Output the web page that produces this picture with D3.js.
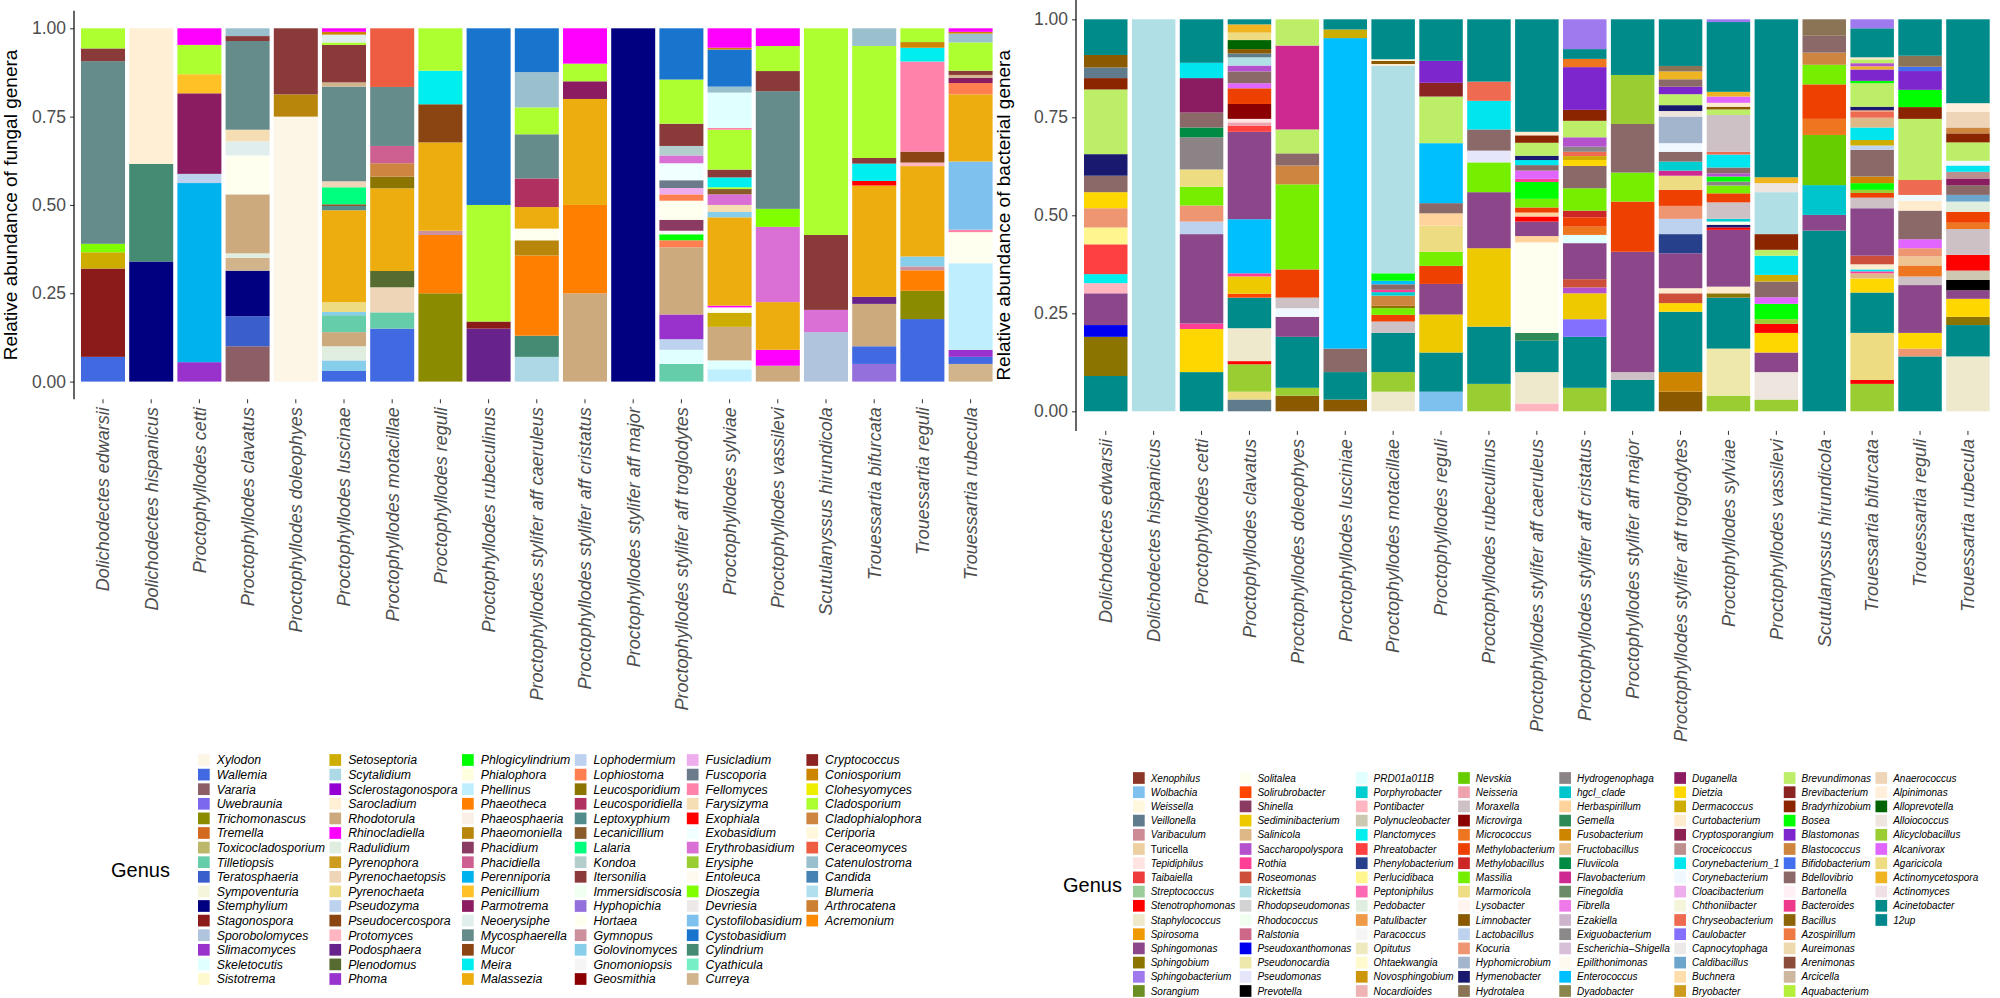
<!DOCTYPE html>
<html>
<head>
<meta charset="utf-8">
<script src="https://cdn.jsdelivr.net/npm/d3@7"></script>
<style>
  body { margin: 0; background: #fff; }
  text { font-family: "Liberation Sans", Arial, sans-serif; }
</style>
</head>
<body>
<svg id="chart" width="2000" height="998"></svg>
<script>
// ---- data ----
const fungalSpecies = ["Dolichodectes edwarsii","Dolichodectes hispanicus","Proctophyllodes cetti","Proctophyllodes clavatus","Proctophyllodes doleophyes","Proctophyllodes luscinae","Proctophyllodes motacillae","Proctophyllodes reguli","Proctophyllodes rubeculinus","Proctophyllodes stylifer aff caeruleus","Proctophyllodes stylifer aff cristatus","Proctophyllodes stylifer aff major","Proctophyllodes stylifer aff troglodytes","Proctophyllodes sylviae","Proctophyllodes vassilevi","Scutulanyssus hirundicola","Trouessartia bifurcata","Trouessartia reguli","Trouessartia rubecula"];
const bacterialSpecies = ["Dolichodectes edwarsii","Dolichodectes hispanicus","Proctophyllodes cetti","Proctophyllodes clavatus","Proctophyllodes doleophyes","Proctophyllodes lusciniae","Proctophyllodes motacillae","Proctophyllodes reguli","Proctophyllodes rubeculinus","Proctophyllodes stylifer aff caeruleus","Proctophyllodes stylifer aff cristatus","Proctophyllodes stylifer aff major","Proctophyllodes stylifer aff troglodytes","Proctophyllodes sylviae","Proctophyllodes vassilevi","Scutulanyssus hirundicola","Trouessartia bifurcata","Trouessartia reguli","Trouessartia rubecula"];

const yTicks = [0, 0.25, 0.5, 0.75, 1];

const fungalGenera = ["Xylodon","Wallemia","Vararia","Uwebraunia","Trichomonascus","Tremella","Toxicocladosporium","Tilletiopsis","Teratosphaeria","Sympoventuria","Stemphylium","Stagonospora","Sporobolomyces","Slimacomyces","Skeletocutis","Sistotrema",
"Setoseptoria","Scytalidium","Sclerostagonospora","Sarocladium","Rhodotorula","Rhinocladiella","Radulidium","Pyrenophora","Pyrenochaetopsis","Pyrenochaeta","Pseudozyma","Pseudocercospora","Protomyces","Podosphaera","Plenodomus","Phoma",
"Phlogicylindrium","Phialophora","Phellinus","Phaeotheca","Phaeosphaeria","Phaeomoniella","Phacidium","Phacidiella","Perenniporia","Penicillium","Parmotrema","Neoerysiphe","Mycosphaerella","Mucor","Meira","Malassezia",
"Lophodermium","Lophiostoma","Leucosporidium","Leucosporidiella","Leptoxyphium","Lecanicillium","Lalaria","Kondoa","Itersonilia","Immersidiscosia","Hyphopichia","Hortaea","Gymnopus","Golovinomyces","Gnomoniopsis","Geosmithia",
"Fusicladium","Fuscoporia","Fellomyces","Farysizyma","Exophiala","Exobasidium","Erythrobasidium","Erysiphe","Entoleuca","Dioszegia","Devriesia","Cystofilobasidium","Cystobasidium","Cylindrium","Cyathicula","Curreya",
"Cryptococcus","Coniosporium","Clohesyomyces","Cladosporium","Cladophialophora","Ceriporia","Ceraceomyces","Catenulostroma","Candida","Blumeria","Arthrocatena","Acremonium"];

const fungalPalette = ["#fdf5e6","#4169e1","#8b5f65","#7b68ee","#8b8b00","#d2691e","#bdb76b","#66cdaa","#3a5fcd","#f5f5dc","#000080","#8b1a1a","#b0c4de","#9932cc","#e0ffff","#fffacd",
"#cdad00","#add8e6","#9400d3","#ffefd5","#cdaa7d","#ff00ff","#e0eee0","#cd9b1d","#eed5b7","#eedc82","#bcd2ee","#8b4513","#ffb6c1","#68228b","#556b2f","#9a32cd",
"#00ff00","#ffffe0","#bfefff","#ff7f00","#faf0e6","#b8860b","#8b3a62","#cd6090","#00b2ee","#ffc125","#8b1c62","#e0eeee","#668b8b","#8b4513","#00eeee","#eead0e",
"#bcd2ee","#ff7f50","#8b7500","#b03060","#528b8b","#8b5a2b","#00ff7f","#b4cdcd","#8b3a3a","#f0fff0","#9370db","#fffff0","#cd919e","#87ceeb","#f5f5f5","#8b0000",
"#eeaeee","#6c7b8b","#ff82ab","#f5deb3","#ff0000","#f0ffff","#da70d6","#9acd32","#fffaf0","#7fff00","#eee9e9","#7ec0ee","#1874cd","#458b74","#76eec6","#d2b48c",
"#8b2323","#cd8500","#eeee00","#adff2f","#cd853f","#fff8dc","#ee5c42","#9ac0cd","#4682b4","#b2dfee","#cd7f32","#ff8c00"];

const bacterialGenera = ["Xenophilus","Wolbachia","Weissella","Veillonella","Varibaculum","Turicella","Tepidiphilus","Taibaiella","Streptococcus","Stenotrophomonas","Staphylococcus","Spirosoma","Sphingomonas","Sphingobium","Sphingobacterium","Sorangium",
"Solitalea","Solirubrobacter","Shinella","Sediminibacterium","Salinicola","Saccharopolyspora","Rothia","Roseomonas","Rickettsia","Rhodopseudomonas","Rhodococcus","Ralstonia","Pseudoxanthomonas","Pseudonocardia","Pseudomonas","Prevotella",
"PRD01a011B","Porphyrobacter","Pontibacter","Polynucleobacter","Planctomyces","Phreatobacter","Phenylobacterium","Perlucidibaca","Peptoniphilus","Pedobacter","Patulibacter","Paracoccus","Opitutus","Ohtaekwangia","Novosphingobium","Nocardioides",
"Nevskia","Neisseria","Moraxella","Microvirga","Micrococcus","Methylobacterium","Methylobacillus","Massilia","Marmoricola","Lysobacter","Limnobacter","Lactobacillus","Kocuria","Hyphomicrobium","Hymenobacter","Hydrotalea",
"Hydrogenophaga","hgcI_clade","Herbaspirillum","Gemella","Fusobacterium","Fructobacillus","Fluviicola","Flavobacterium","Finegoldia","Fibrella","Ezakiella","Exiguobacterium","Escherichia\u2013Shigella","Epilithonimonas","Enterococcus","Dyadobacter",
"Duganella","Dietzia","Dermacoccus","Curtobacterium","Cryptosporangium","Croceicoccus","Corynebacterium_1","Corynebacterium","Cloacibacterium","Chthoniibacter","Chryseobacterium","Caulobacter","Capnocytophaga","Caldibacillus","Buchnera","Bryobacter",
"Brevundimonas","Brevibacterium","Bradyrhizobium","Bosea","Blastomonas","Blastococcus","Bifidobacterium","Bdellovibrio","Bartonella","Bacteroides","Bacillus","Azospirillum","Aureimonas","Arenimonas","Arcicella","Aquabacterium",
"Anaerococcus","Alpinimonas","Alloprevotella","Alloiococcus","Alicyclobacillus","Alcanivorax","Agaricicola","Actinomycetospora","Actinomyces","Acinetobacter","12up"];

const bacterialPalette = ["#8b3626","#7ec0ee","#fff8dc","#607b8b","#cd8c95","#eecfa1","#ffe4e1","#ee3b3b","#9bcd9b","#ff0000","#eee8cd","#ee9a00","#8b4789","#8b7500","#9f79ee","#6b8e23",
"#fffff0","#ff4500","#8b3a62","#eec900","#deb887","#b452cd","#ff3e96","#cd4f39","#b0e0e6","#d3d3d3","#f0fff0","#cd6889","#0000ee","#eee8aa","#e6e6fa","#000000",
"#e0ffff","#00ced1","#ffb6c1","#cdc8b1","#00eeee","#ff4040","#27408b","#fff68f","#ff69b4","#e0eee0","#ee9a49","#f5f5f5","#eee9bf","#fffacd","#cd950c","#eeb4b4",
"#66cd00","#eea2ad","#cdc1c5","#8b0000","#ee7621","#ee4000","#cd2626","#76ee00","#eedd82","#fff5ee","#8b5a00","#bcd2ee","#ee9572","#a2b5cd","#191970","#8b7355",
"#8b8386","#00c5cd","#ffd39b","#2e8b57","#cd8500","#eec591","#008b45","#cd2990","#698b69","#ee7ae9","#cdb5cd","#8b8989","#d8bfd8","#fffaf0","#00bfff","#8b864e",
"#8b1c62","#ffd700","#cdad00","#ffebcd","#8b2252","#bc8f8f","#00e5ee","#f0f8ff","#eeaeee","#f5f5dc","#ee6a50","#8470ff","#eee9e9","#6ca6cd","#ffdead","#cd9b1d",
"#bcee68","#8b2323","#8b2500","#00ff00","#7d26cd","#cd853f","#436eee","#8b6969","#fff0f5","#ee3a8c","#8b6508","#ee7942","#eed8ae","#8b4c39","#cdb79e","#b3ee3a",
"#eed5b7","#ffefdb","#006400","#eee5de","#9acd32","#e066ff","#eedc82","#eeb422","#eee0e5","#008b8b","#00868b"];

// stacks read top -> bottom, [genus, relative abundance]
const fungalStacks = [
  [["Cladosporium",.057],["Itersonilia",.036],["Mycosphaerella",.517],["Dioszegia",.024],["Setoseptoria",.046],["Stagonospora",.25],["Wallemia",.07]],
  [["Sarocladium",.384],["Cylindrium",.276],["Stemphylium",.34]],
  [["Rhinocladiella",.047],["Cladosporium",.083],["Penicillium",.054],["Parmotrema",.228],["Lophodermium",.026],["Perenniporia",.507],["Slimacomyces",.055]],
  [["Catenulostroma",.022],["Itersonilia",.014],["Mycosphaerella",.251],["Farysizyma",.033],["Neoerysiphe",.04],["Hortaea",.11],["Rhodotorula",.167],["Radulidium",.013],["Curreya",.036],["Stemphylium",.129],["Teratosphaeria",.085],["Vararia",.1]],
  [["Itersonilia",.187],["Phaeomoniella",.063],["Xylodon",.75]],
  [["Rhinocladiella",.01],["Coniosporium",.008],["Neoerysiphe",.022],["Cladosporium",.007],["Itersonilia",.106],["Curreya",.012],["Mycosphaerella",.268],["Pyrenochaetopsis",.017],["Lalaria",.048],["Lecanicillium",.005],["Leptoxyphium",.012],["Malassezia",.26],["Pyrenochaeta",.028],["Golovinomyces",.009],["Tilletiopsis",.048],["Rhodotorula",.04],["Radulidium",.04],["Golovinomyces",.03],["Wallemia",.03]],
  [["Ceraceomyces",.166],["Mycosphaerella",.167],["Phacidiella",.049],["Cladophialophora",.038],["Leucosporidium",.033],["Malassezia",.234],["Plenodomus",.046],["Pyrenochaetopsis",.071],["Tilletiopsis",.046],["Wallemia",.15]],
  [["Cladosporium",.12],["Meira",.095],["Mucor",.108],["Malassezia",.25],["Gymnopus",.012],["Phaeotheca",.165],["Trichomonascus",.25]],
  [["Cystobasidium",.5],["Cladosporium",.33],["Stagonospora",.02],["Podosphaera",.15]],
  [["Cystobasidium",.124],["Catenulostroma",.1],["Cladosporium",.076],["Mycosphaerella",.125],["Leucosporidiella",.081],["Malassezia",.061],["Hortaea",.033],["Phaeomoniella",.043],["Phaeotheca",.227],["Cylindrium",.06],["Scytalidium",.07]],
  [["Rhinocladiella",.1],["Cladosporium",.05],["Parmotrema",.05],["Malassezia",.3],["Phaeotheca",.25],["Rhodotorula",.25]],
  [["Stemphylium",1]],
  [["Cystobasidium",.145],["Cladosporium",.125],["Itersonilia",.063],["Kondoa",.027],["Erythrobasidium",.022],["Exobasidium",.048],["Fuscoporia",.022],["Fusicladium",.018],["Lophiostoma",.018],["Hortaea",.054],["Phacidium",.031],["Gnomoniopsis",.01],["Phlogicylindrium",.017],["Lophiostoma",.02],["Rhodotorula",.19],["Slimacomyces",.07],["Lophodermium",.03],["Skeletocutis",.04],["Tilletiopsis",.05]],
  [["Rhinocladiella",.055],["Coniosporium",.005],["Cystobasidium",.105],["Catenulostroma",.017],["Skeletocutis",.1],["Fellomyces",.005],["Cladosporium",.113],["Itersonilia",.022],["Meira",.028],["Cladosporium",.005],["Lecanicillium",.015],["Erythrobasidium",.03],["Farysizyma",.02],["Golovinomyces",.015],["Malassezia",.25],["Rhinocladiella",.005],["Hortaea",.015],["Setoseptoria",.04],["Rhodotorula",.095],["Skeletocutis",.025],["Phellinus",.035]],
  [["Rhinocladiella",.05],["Cladosporium",.071],["Itersonilia",.057],["Mycosphaerella",.333],["Dioszegia",.051],["Erythrobasidium",.213],["Malassezia",.135],["Rhinocladiella",.045],["Rhodotorula",.045]],
  [["Cladosporium",.585],["Itersonilia",.212],["Erythrobasidium",.063],["Sporobolomyces",.14]],
  [["Catenulostroma",.05],["Cladosporium",.317],["Itersonilia",.016],["Meira",.049],["Exophiala",.013],["Malassezia",.315],["Podosphaera",.02],["Rhodotorula",.12],["Wallemia",.05],["Hyphopichia",.05]],
  [["Cladosporium",.039],["Coniosporium",.016],["Meira",.039],["Fellomyces",.255],["Mucor",.031],["Protomyces",.01],["Malassezia",.256],["Golovinomyces",.028],["Gymnopus",.011],["Phaeotheca",.058],["Trichomonascus",.08],["Wallemia",.177]],
  [["Rhinocladiella",.01],["Coniosporium",.005],["Catenulostroma",.025],["Cladosporium",.08],["Itersonilia",.012],["Curreya",.008],["Parmotrema",.015],["Lophiostoma",.032],["Malassezia",.19],["Cystofilobasidium",.193],["Fellomyces",.007],["Hortaea",.088],["Phellinus",.245],["Slimacomyces",.02],["Wallemia",.02],["Curreya",.05]]
];

const bacterialStacks = [
  [["Acinetobacter",.091],["Limnobacter",.032],["Veillonella",.027],["Bradyrhizobium",.029],["Brevundimonas",.165],["Hymenobacter",.055],["Bdellovibrio",.042],["Dietzia",.041],["Kocuria",.049],["Perlucidibaca",.043],["Phreatobacter",.076],["Planctomyces",.023],["Pontibacter",.026],["Sphingomonas",.081],["Pseudoxanthomonas",.03],["Sphingobium",.1],["Acinetobacter",.09]],
  [["Rickettsia",1]],
  [["Acinetobacter",.111],["Corynebacterium_1",.039],["Duganella",.088],["Bdellovibrio",.038],["Fluviicola",.025],["Hydrogenophaga",.082],["Agaricicola",.044],["Massilia",.048],["Kocuria",.041],["Lactobacillus",.032],["Sphingomonas",.228],["Rothia",.014],["Dietzia",.11],["Acinetobacter",.1]],
  [["Acinetobacter",.013],["Actinomycetospora",.021],["Agaricicola",.019],["Alloprevotella",.023],["Limnobacter",.011],["Veillonella",.01],["Rickettsia",.021],["Saccharopolyspora",.015],["Bdellovibrio",.03],["Alcanivorax",.013],["Methylobacterium",.04],["Microvirga",.038],["Tepidiphilus",.009],["Neisseria",.009],["Phreatobacter",.015],["Sphingomonas",.223],["Enterococcus",.138],["Rothia",.008],["Sediminibacterium",.044],["Solirubrobacter",.01],["Acinetobacter",.078],["Staphylococcus",.084],["Stenotrophomonas",.008],["Alicyclobacillus",.07],["Agaricicola",.02],["Veillonella",.03]],
  [["Brevundimonas",.067],["Flavobacterium",.214],["Brevundimonas",.061],["Bdellovibrio",.031],["Blastococcus",.048],["Massilia",.217],["Methylobacterium",.072],["Moraxella",.027],["Corynebacterium",.022],["Sphingomonas",.051],["Acinetobacter",.13],["Alicyclobacillus",.02],["Limnobacter",.04]],
  [["Acinetobacter",.026],["Dermacoccus",.022],["Enterococcus",.792],["Bdellovibrio",.06],["Acinetobacter",.07],["Limnobacter",.03]],
  [["Acinetobacter",.102],["Weissella",.004],["Limnobacter",.008],["Curtobacterium",.004],["Rickettsia",.53],["Bosea",.019],["Enterococcus",.009],["Bdellovibrio",.014],["Rothia",.006],["Porphyrobacter",.009],["Blastococcus",.026],["Sphingobium",.006],["Massilia",.017],["Methylobacterium",.017],["Moraxella",.029],["Acinetobacter",.1],["Alicyclobacillus",.05],["Staphylococcus",.05]],
  [["Acinetobacter",.106],["Blastomonas",.056],["Brevibacterium",.035],["Brevundimonas",.119],["Enterococcus",.153],["Bdellovibrio",.026],["Herbaspirillum",.031],["Agaricicola",.067],["Massilia",.036],["Methylobacterium",.046],["Sphingomonas",.078],["Sediminibacterium",.097],["Acinetobacter",.1],["Wolbachia",.05]],
  [["Acinetobacter",.159],["Chryseobacterium",.049],["Corynebacterium_1",.073],["Bdellovibrio",.054],["Pseudomonas",.03],["Massilia",.076],["Sphingomonas",.143],["Sediminibacterium",.2],["Acinetobacter",.146],["Alicyclobacillus",.07]],
  [["Acinetobacter",.287],["Curtobacterium",.009],["Bradyrhizobium",.019],["Brevundimonas",.033],["Hymenobacter",.011],["Corynebacterium_1",.013],["Bdellovibrio",.014],["Alcanivorax",.021],["Rothia",.008],["Bosea",.043],["Massilia",.022],["Methylobacterium",.013],["Herbaspirillum",.01],["Stenotrophomonas",.013],["Sphingomonas",.037],["Herbaspirillum",.016],["Solitalea",.231],["Gemella",.02],["Acinetobacter",.08],["Staphylococcus",.08],["Pontibacter",.02]],
  [["Sphingobacterium",.076],["Acinetobacter",.025],["Micrococcus",.021],["Blastomonas",.109],["Bradyrhizobium",.028],["Brevundimonas",.042],["Saccharopolyspora",.024],["Hydrogenophaga",.013],["Chryseobacterium",.011],["Dermacoccus",.01],["Dietzia",.015],["Bdellovibrio",.057],["Massilia",.057],["Methylobacillus",.017],["Methylobacterium",.024],["Micrococcus",.021],["PRD01a011B",.021],["Sphingomonas",.092],["Roseomonas",.021],["Saccharopolyspora",.015],["Sediminibacterium",.066],["Caulobacter",.045],["Acinetobacter",.13],["Alicyclobacillus",.06]],
  [["Acinetobacter",.142],["Alicyclobacillus",.125],["Bdellovibrio",.124],["Massilia",.074],["Methylobacterium",.128],["Sphingomonas",.307],["Moraxella",.02],["Acinetobacter",.08]],
  [["Acinetobacter",.119],["Hydrotalea",.014],["Actinomycetospora",.02],["Bdellovibrio",.019],["Blastomonas",.019],["Brevundimonas",.028],["Hymenobacter",.015],["Alloiococcus",.014],["Hyphomicrobium",.068],["Corynebacterium",.022],["Bdellovibrio",.025],["Porphyrobacter",.023],["Flavobacterium",.013],["Agaricicola",.036],["Methylobacterium",.041],["Kocuria",.033],["Lactobacillus",.039],["Phenylobacterium",.049],["Sphingomonas",.089],["Curtobacterium",.013],["Roseomonas",.025],["Dietzia",.022],["Acinetobacter",.154],["Fusobacterium",.05],["Limnobacter",.05]],
  [["Sphingobacterium",.007],["Acinetobacter",.178],["Actinomycetospora",.012],["Alcanivorax",.016],["Curtobacterium",.01],["Limnobacter",.007],["Brevundimonas",.014],["Moraxella",.094],["Chryseobacterium",.007],["Corynebacterium_1",.033],["Bdellovibrio",.015],["Saccharopolyspora",.008],["Bosea",.013],["Hydrogenophaga",.01],["Massilia",.02],["Methylobacterium",.023],["Moraxella",.042],["Porphyrobacter",.007],["Solitalea",.008],["Hymenobacter",.007],["Stenotrophomonas",.006],["Sphingomonas",.145],["Curtobacterium",.017],["Sphingobium",.011],["Acinetobacter",.13],["Pseudonocardia",.12],["Alicyclobacillus",.04]],
  [["Acinetobacter",.403],["Actinomycetospora",.015],["Alloiococcus",.023],["Rickettsia",.107],["Bradyrhizobium",.04],["Brevundimonas",.015],["Corynebacterium_1",.049],["Dermacoccus",.017],["Bdellovibrio",.04],["Alcanivorax",.017],["Bosea",.039],["Alicyclobacillus",.012],["Stenotrophomonas",.023],["Dietzia",.05],["Sphingomonas",.05],["Alloiococcus",.07],["Alicyclobacillus",.03]],
  [["Hydrotalea",.042],["Bdellovibrio",.043],["Blastococcus",.031],["Massilia",.05],["Methylobacterium",.088],["Micrococcus",.041],["Nevskia",.128],["hgcI_clade",.076],["Sphingomonas",.04],["Acinetobacter",.461]],
  [["Sphingobacterium",.023],["Acinetobacter",.074],["Curtobacterium",.005],["Brevundimonas",.01],["Saccharopolyspora",.008],["Actinomycetospora",.008],["Blastomonas",.029],["Bosea",.006],["Brevundimonas",.06],["Hymenobacter",.009],["Kocuria",.004],["Chryseobacterium",.015],["Salinicola",.025],["Corynebacterium_1",.032],["Dermacoccus",.014],["Lactobacillus",.011],["Bdellovibrio",.068],["Fusobacterium",.017],["Bosea",.017],["Alicyclobacillus",.008],["Methylobacterium",.012],["Moraxella",.027],["Sphingomonas",.121],["Roseomonas",.022],["Curtobacterium",.013],["Corynebacterium_1",.005],["Rothia",.005],["Salinicola",.013],["Dietzia",.036],["Acinetobacter",.103],["Agaricicola",.12],["Stenotrophomonas",.01],["Alicyclobacillus",.07]],
  [["Acinetobacter",.093],["Hydrotalea",.028],["Bifidobacterium",.011],["Blastomonas",.048],["Bosea",.044],["Bradyrhizobium",.03],["Brevundimonas",.156],["Chryseobacterium",.038],["Corynebacterium",.015],["Curtobacterium",.025],["Bdellovibrio",.073],["Alcanivorax",.023],["Kocuria",.021],["Fructobacillus",.023],["Micrococcus",.028],["Moraxella",.022],["Sphingomonas",.122],["Dietzia",.04],["Kocuria",.02],["Acinetobacter",.14]],
  [["Acinetobacter",.214],["Alpinimonas",.022],["Anaerococcus",.04],["Blastococcus",.015],["Bradyrhizobium",.023],["Brevundimonas",.047],["Corynebacterium",.012],["Corynebacterium_1",.016],["Croceicoccus",.017],["Duganella",.017],["Bdellovibrio",.025],["Caldibacillus",.017],["Pedobacter",.026],["Methylobacterium",.028],["Micrococcus",.016],["Moraxella",.066],["Stenotrophomonas",.04],["Polynucleobacter",.024],["Prevotella",.026],["Sphingomonas",.022],["Dietzia",.046],["Sphingobium",.021],["Acinetobacter",.08],["Staphylococcus",.14]]
];

// ---- drawing ----
const svg = d3.select("#chart");
const GREY = "#4d4d4d";

function drawPanel(cfg){
  const g = svg.append("g");
  const x = d3.scaleBand().domain(cfg.species)
    .range([cfg.x0, cfg.x0 + cfg.species.length*cfg.step])
    .paddingInner(cfg.pad).paddingOuter(cfg.pad/2);
  const y = d3.scaleLinear().domain([0,1]).range([cfg.yBottom, cfg.yTop]);
  const color = d3.scaleOrdinal().domain(cfg.genera).range(cfg.palette);

  // stacked bars: data listed top->bottom, stack from the bottom up
  cfg.stacks.forEach((stack, i) => {
    let acc = 0;
    const segs = stack.slice().reverse().map(([genus, v]) => {
      const s = {genus, y0: acc, y1: acc + v};
      acc += v;
      return s;
    });
    g.append("g").selectAll("rect").data(segs).join("rect")
      .attr("x", x(cfg.species[i]))
      .attr("width", x.bandwidth())
      .attr("y", d => y(d.y1))
      .attr("height", d => y(d.y0) - y(d.y1))
      .attr("fill", d => color(d.genus));
  });

  // y axis
  const yAxis = d3.axisLeft(y).tickValues(yTicks).tickFormat(d3.format(".2f")).tickSize(4).tickPadding(4);
  const ax = g.append("g").attr("transform", `translate(${cfg.axisX},0)`).call(yAxis);
  ax.select(".domain").remove();
  ax.append("line").attr("y1", y(1.05)).attr("y2", y(-0.05)).attr("stroke", "#000").attr("stroke-width", 1.2);
  ax.selectAll(".tick line").attr("stroke", "#333");
  ax.selectAll(".tick text").attr("fill", GREY).style("font-size", "17.5px");

  g.append("text")
    .attr("transform", `translate(${cfg.titleX},${(y(1.05)+y(-0.05))/2}) rotate(-90)`)
    .attr("text-anchor", "middle")
    .style("font-size", "19px")
    .text(cfg.title);

  // x tick labels
  const bottom = y(-0.05);
  g.append("g").selectAll("line").data(cfg.species).join("line")
    .attr("x1", d => x(d) + x.bandwidth()/2).attr("x2", d => x(d) + x.bandwidth()/2)
    .attr("y1", bottom).attr("y2", bottom + 4).attr("stroke", "#333");
  g.append("g").selectAll("text").data(cfg.species).join("text")
    .attr("transform", d => `translate(${x(d) + x.bandwidth()/2},${bottom + 8}) rotate(-90)`)
    .attr("text-anchor", "end")
    .attr("dy", "0.35em")
    .attr("fill", GREY)
    .style("font-size", "18px")
    .style("font-style", "italic")
    .text(d => d);

  // legend
  const lg = svg.append("g");
  const rows = 16;
  let colX = cfg.legX;
  for (let c = 0; c * rows < cfg.genera.length; c++) {
    const items = cfg.genera.slice(c*rows, c*rows + rows);
    const col = lg.append("g");
    items.forEach((name, r) => {
      const cy = cfg.legY + r*cfg.legStep;
      col.append("rect")
        .attr("x", colX).attr("y", cy - cfg.key/2)
        .attr("width", cfg.key).attr("height", cfg.key)
        .attr("fill", color(name));
      col.append("text")
        .attr("x", colX + cfg.key + cfg.keyGap).attr("y", cy)
        .attr("dy", "0.35em")
        .style("font-size", cfg.legFont + "px")
        .style("font-style", name === "Turicella" ? "normal" : "italic")
        .text(name);
    });
    let w = 0;
    col.selectAll("text").each(function(){ w = Math.max(w, this.getComputedTextLength()); });
    colX += cfg.key + cfg.keyGap + w + cfg.colGap;
  }
  lg.append("text")
    .attr("x", cfg.legX - cfg.titleGap).attr("y", cfg.legY + 7.5*cfg.legStep)
    .attr("dy", "0.35em")
    .attr("text-anchor", "end")
    .style("font-size", "20px")
    .text("Genus");
}

drawPanel({
  species: fungalSpecies, stacks: fungalStacks, genera: fungalGenera, palette: fungalPalette,
  x0: 78.9, step: 48.2, pad: 0.087, yTop: 28.3, yBottom: 381.6, axisX: 74,
  title: "Relative abundance of fungal genera", titleX: 17,
  legX: 198, legY: 760, legStep: 14.6, key: 11.7, keyGap: 7, colGap: 4.5, legFont: 12.3, titleGap: 28
});

drawPanel({
  species: bacterialSpecies, stacks: bacterialStacks, genera: bacterialGenera, palette: bacterialPalette,
  x0: 1081.8, step: 47.9, pad: 0.092, yTop: 19.3, yBottom: 411.3, axisX: 1076,
  title: "Relative abundance of bacterial genera", titleX: 1010,
  legX: 1133, legY: 778, legStep: 14.2, key: 11.7, keyGap: 6, colGap: 4.5, legFont: 10, titleGap: 11
});
</script>
</body>
</html>
